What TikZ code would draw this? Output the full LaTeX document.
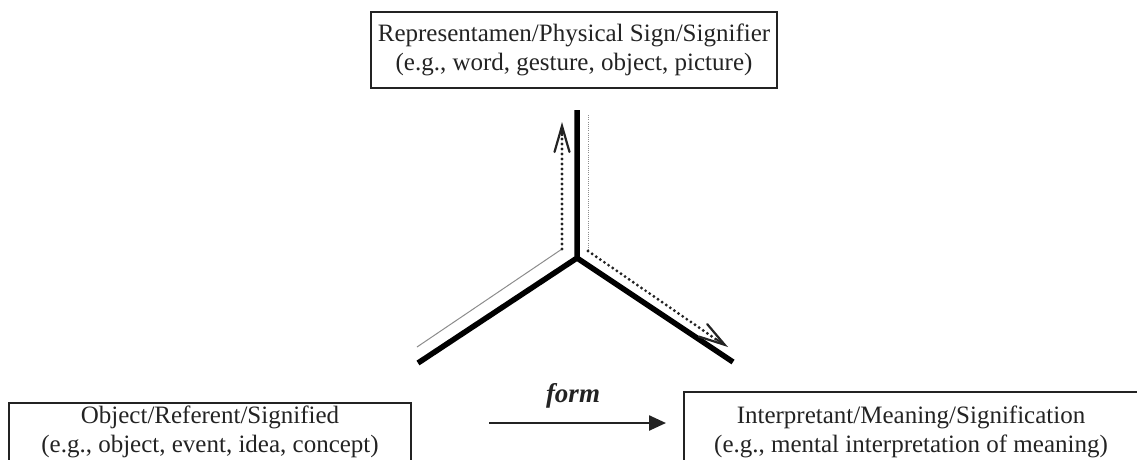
\documentclass[tikz,border=0pt]{standalone}
\usepackage{fontspec}
\setmainfont{Liberation Serif}
\usetikzlibrary{positioning, arrows.meta}
\definecolor{inkgrey}{RGB}{35,35,35}
\definecolor{fadegrey}{RGB}{140,140,140}
\tikzset{
    sigbox/.style={rectangle, draw=inkgrey, line width=1.5pt, text=inkgrey, align=center, font=\fontsize{25}{29}\selectfont, inner sep=0pt},
    armline/.style={line width=5.5pt, color=black},
    thinpath/.style={line width=1pt, color=fadegrey},
    finedots/.style={line width=1pt, color=fadegrey, dash pattern=on 1pt off 1.2pt},
    bolddots/.style={line width=3.2pt, color=inkgrey, line cap=round, dash pattern=on 0pt off 5pt},
    barbtip/.style={-{Straight Barb[length=26pt, width=15pt, line width=2.2pt, line cap=round]}},
    formarr/.style={-{Triangle[length=17pt, width=15pt]}, line width=2.4pt, color=inkgrey},
    formlbl/.style={font=\fontsize{27}{30}\selectfont\bfseries\itshape, text=inkgrey}
}
\begin{document}
\begin{tikzpicture}[x=1pt, y=-1pt]
    \useasboundingbox (0,0) rectangle (1137,459);
    % the three corners
    \node[sigbox, minimum width=406pt, minimum height=76pt] (sign) at (574,50) {Representamen/Physical Sign/Signifier\\(e.g., word, gesture, object, picture)};
    \node[sigbox, minimum width=402pt, minimum height=58pt] (object) at (210,432) {Object/Referent/Signified\\(e.g., object, event, idea, concept)};
    \node[sigbox, minimum width=454pt, minimum height=80pt] (interp) at (911,432) {Interpretant/Meaning/Signification\\(e.g., mental interpretation of meaning)};
    % the Y
    \coordinate (hub) at (577,258);
    \coordinate (armtop) at (577,110);
    \coordinate (armleft) at (418,363);
    \coordinate (armright) at (733,362);
    \draw[armline] (armtop) -- (hub) -- (armleft);
    \draw[armline] (hub) -- (armright);
    % paths along the arms
    \coordinate (leftfoot) at (417,347);
    \coordinate (leftbend) at (562,249);
    \coordinate (lefthead) at (562,122);
    \coordinate (righttop) at (588,115);
    \coordinate (rightbend) at (588,251);
    \coordinate (righthead) at (728,347);
    \draw[thinpath] (leftfoot) -- (leftbend);
    \draw[bolddots] (leftbend) -- (562,135);
    \draw[barbtip, line width=2pt, inkgrey] (562,136) -- (lefthead);
    \draw[finedots] (righttop) -- (rightbend);
    \draw[bolddots] (rightbend) -- (717,340);
    \draw[barbtip, line width=2pt, inkgrey] (716,339) -- (righthead);
    % form arrow
    \coordinate (formstart) at (489,423);
    \coordinate (formend) at (666,423);
    \draw[formarr] (formstart) -- (formend);
    \node[formlbl] (formtext) at (573,396) {form};
\end{tikzpicture}
\end{document}
